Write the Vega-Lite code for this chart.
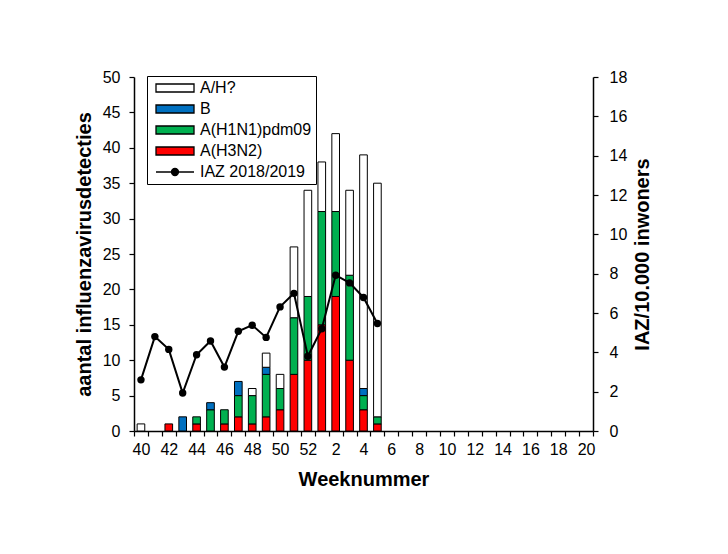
{
  "$schema": "https://vega.github.io/schema/vega-lite/v6.json",
  "width": 459,
  "height": 354,
  "autosize": "none",
  "padding": {"left": 134, "top": 77, "right": 135, "bottom": 123},
  "background": "white",
  "config": {
    "view": {"stroke": null},
    "font": "Liberation Sans",
    "axis": {
      "domainColor": "black",
      "tickColor": "black",
      "labelColor": "black",
      "titleColor": "black",
      "labelFont": "Liberation Sans",
      "titleFont": "Liberation Sans",
      "labelFontSize": 16,
      "titleFontSize": 20,
      "titleFontWeight": "bold",
      "grid": false,
      "tickSize": 5,
      "domainWidth": 1.5,
      "tickWidth": 1.2
    }
  },
  "datasets": {
    "det": [
      {"week": 40, "type": "A/H?", "n": 1},
      {"week": 42, "type": "A(H3N2)", "n": 1},
      {"week": 43, "type": "B", "n": 2},
      {"week": 44, "type": "A(H3N2)", "n": 1},
      {"week": 44, "type": "A(H1N1)pdm09", "n": 1},
      {"week": 45, "type": "A(H1N1)pdm09", "n": 3},
      {"week": 45, "type": "B", "n": 1},
      {"week": 46, "type": "A(H3N2)", "n": 1},
      {"week": 46, "type": "A(H1N1)pdm09", "n": 2},
      {"week": 47, "type": "A(H3N2)", "n": 2},
      {"week": 47, "type": "A(H1N1)pdm09", "n": 3},
      {"week": 47, "type": "B", "n": 2},
      {"week": 48, "type": "A(H3N2)", "n": 1},
      {"week": 48, "type": "A(H1N1)pdm09", "n": 4},
      {"week": 48, "type": "A/H?", "n": 1},
      {"week": 49, "type": "A(H3N2)", "n": 2},
      {"week": 49, "type": "A(H1N1)pdm09", "n": 6},
      {"week": 49, "type": "B", "n": 1},
      {"week": 49, "type": "A/H?", "n": 2},
      {"week": 50, "type": "A(H3N2)", "n": 3},
      {"week": 50, "type": "A(H1N1)pdm09", "n": 3},
      {"week": 50, "type": "A/H?", "n": 2},
      {"week": 51, "type": "A(H3N2)", "n": 8},
      {"week": 51, "type": "A(H1N1)pdm09", "n": 8},
      {"week": 51, "type": "A/H?", "n": 10},
      {"week": 52, "type": "A(H3N2)", "n": 10},
      {"week": 52, "type": "A(H1N1)pdm09", "n": 9},
      {"week": 52, "type": "A/H?", "n": 15},
      {"week": 1, "type": "A(H3N2)", "n": 15},
      {"week": 1, "type": "A(H1N1)pdm09", "n": 16},
      {"week": 1, "type": "A/H?", "n": 7},
      {"week": 2, "type": "A(H3N2)", "n": 19},
      {"week": 2, "type": "A(H1N1)pdm09", "n": 12},
      {"week": 2, "type": "A/H?", "n": 11},
      {"week": 3, "type": "A(H3N2)", "n": 10},
      {"week": 3, "type": "A(H1N1)pdm09", "n": 12},
      {"week": 3, "type": "A/H?", "n": 12},
      {"week": 4, "type": "A(H3N2)", "n": 3},
      {"week": 4, "type": "A(H1N1)pdm09", "n": 2},
      {"week": 4, "type": "B", "n": 1},
      {"week": 4, "type": "A/H?", "n": 33},
      {"week": 5, "type": "A(H3N2)", "n": 1},
      {"week": 5, "type": "A(H1N1)pdm09", "n": 1},
      {"week": 5, "type": "A/H?", "n": 33}
    ],
    "iaz": [
      {"week": 40, "iaz": 2.6},
      {"week": 41, "iaz": 4.8},
      {"week": 42, "iaz": 4.15},
      {"week": 43, "iaz": 1.93},
      {"week": 44, "iaz": 3.88},
      {"week": 45, "iaz": 4.58},
      {"week": 46, "iaz": 3.25},
      {"week": 47, "iaz": 5.07},
      {"week": 48, "iaz": 5.38},
      {"week": 49, "iaz": 4.76},
      {"week": 50, "iaz": 6.31},
      {"week": 51, "iaz": 7.0},
      {"week": 52, "iaz": 3.8},
      {"week": 1, "iaz": 5.2},
      {"week": 2, "iaz": 7.92},
      {"week": 3, "iaz": 7.53},
      {"week": 4, "iaz": 6.79},
      {"week": 5, "iaz": 5.47}
    ]
  },
  "layer": [
    {
      "data": {"name": "det"},
      "transform": [
        {"calculate": "indexof(['A(H3N2)','A(H1N1)pdm09','B','A/H?'], datum.type)", "as": "stackorder"}
      ],
      "mark": {"type": "bar", "width": {"band": 0.55}, "stroke": "black", "strokeWidth": 1},
      "encoding": {
        "x": {
          "field": "week",
          "type": "ordinal",
          "scale": {
            "domain": [40,41,42,43,44,45,46,47,48,49,50,51,52,1,2,3,4,5,6,7,8,9,10,11,12,13,14,15,16,17,18,19,20],
            "paddingInner": 0,
            "paddingOuter": 0
          },
          "axis": {
            "title": "Weeknummer",
            "labelExpr": "datum.value % 2 == 0 ? datum.label : ''",
            "labelAngle": 0,
            "tickBand": "extent",
            "labelPadding": 5,
            "titlePadding": 12
          }
        },
        "y": {
          "field": "n",
          "type": "quantitative",
          "stack": "zero",
          "scale": {"domain": [0, 50]},
          "axis": {
            "title": "aantal influenzavirusdetecties",
            "values": [0,5,10,15,20,25,30,35,40,45,50],
            "labelPadding": 9,
            "titlePadding": 8
          }
        },
        "color": {
          "field": "type",
          "type": "nominal",
          "scale": {
            "domain": ["A/H?", "B", "A(H1N1)pdm09", "A(H3N2)", "IAZ 2018/2019"],
            "range": ["#FFFFFF", "#0070C0", "#00B050", "#FF0000", "#000000"]
          },
          "legend": {
            "orient": "none",
            "legendX": 13,
            "legendY": -1,
            "title": null,
            "direction": "vertical",
            "padding": 4,
            "strokeColor": "black",
            "fillColor": "white",
            "labelFontSize": 16,
            "labelFont": "Liberation Sans",
            "labelColor": "black",
            "labelBaseline": "middle",
            "symbolSize": 196,
            "symbolOffset": 4,
            "labelOffset": 29,
            "rowPadding": 5,
            "symbolType": {"expr": "datum.value === 'IAZ 2018/2019' ? 'M-1,0H4.43M1.21,0A0.5,0.5 0 1,0 2.21,0A0.5,0.5 0 1,0 1.21,0Z' : 'M-1,-0.57H4.43V0.57H-1Z'"},
            "symbolStrokeColor": "black",
            "symbolStrokeWidth": 1.3,
            "symbolOpacity": 1
          }
        },
        "order": {"field": "stackorder", "type": "quantitative"}
      }
    },
    {
      "data": {"name": "iaz"},
      "mark": {
        "type": "line",
        "color": "black",
        "strokeWidth": 2,
        "point": {"filled": true, "size": 55, "opacity": 1, "color": "black"}
      },
      "encoding": {
        "x": {
          "field": "week",
          "type": "ordinal",
          "scale": {
            "domain": [40,41,42,43,44,45,46,47,48,49,50,51,52,1,2,3,4,5,6,7,8,9,10,11,12,13,14,15,16,17,18,19,20]
          }
        },
        "y": {
          "field": "iaz",
          "type": "quantitative",
          "scale": {"domain": [0, 18]},
          "axis": {
            "orient": "right",
            "title": "IAZ/10.000 inwoners",
            "values": [0,2,4,6,8,10,12,14,16,18],
            "titleAngle": 270,
            "labelPadding": 11,
            "titlePadding": 26
          }
        }
      }
    }
  ],
  "resolve": {"scale": {"y": "independent"}}
}
